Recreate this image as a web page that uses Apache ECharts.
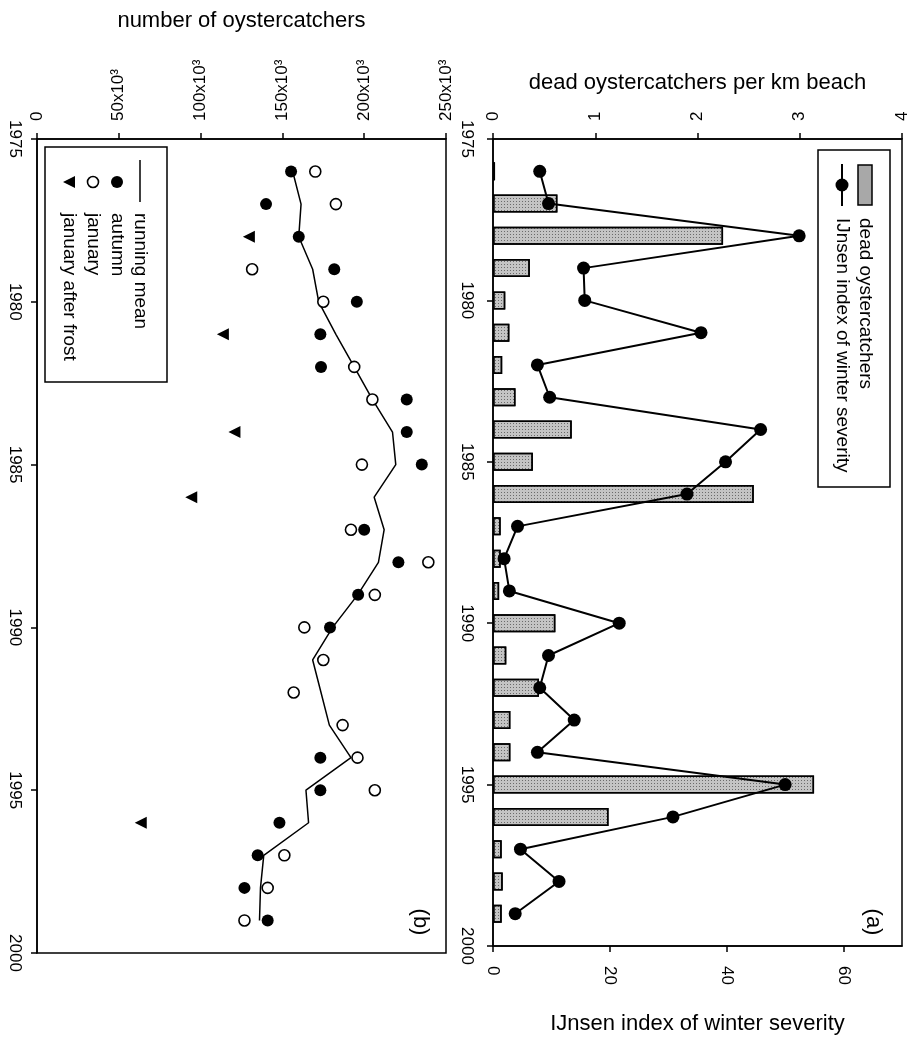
<!DOCTYPE html>
<html>
<head>
<meta charset="utf-8">
<script src="https://cdn.jsdelivr.net/npm/echarts@6/dist/echarts.min.js"></script>
<style>
html,body{margin:0;padding:0;background:#fff;}
#chart{width:918px;height:1040px;}
</style>
</head>
<body>
<div id="chart"></div>
<script>
// ---- data ----
const years = ['1975','1976','1977','1978','1979','1980','1981','1982','1983','1984','1985','1986','1987','1988','1989','1990','1991','1992','1993','1994','1995','1996','1997','1998','1999','2000'];
// panel (a): dead oystercatchers per km beach
const deadPerKm = [null,0.02,0.63,2.25,0.36,0.12,0.16,0.09,0.22,0.77,0.39,2.55,0.075,0.075,0.06,0.61,0.13,0.45,0.17,0.17,3.14,1.13,0.085,0.095,0.085,null];
// panel (a): IJnsen index of winter severity
const ijnsen = [null,8.0,9.5,52.4,15.5,15.7,35.6,7.6,9.7,45.8,39.8,33.2,4.2,1.9,2.8,21.6,9.5,8.0,13.9,7.6,50.0,30.8,4.7,11.3,3.8,null];
// panel (b): numbers of oystercatchers (thousands)
const runningMean = [null,156.3,161.4,160.0,168.5,172.2,182.7,193.9,205.0,217.3,219.3,206.1,212.2,208.7,196.0,180.7,168.5,173.6,178.7,191.9,164.4,166.0,138.6,136.6,136.0,null];
const autumn = [null,155.3,140.0,160.0,181.7,195.5,173.2,173.6,226.0,226.0,235.2,null,200.0,220.9,196.3,179.1,null,null,null,173.2,173.2,148.2,134.9,126.8,141.0,null];
const january = [null,170.1,182.7,null,131.5,175.0,null,193.9,205.0,null,198.6,null,191.9,239.2,206.5,163.4,175.0,156.9,186.8,195.9,206.5,null,151.2,141.0,126.8,null];
const januaryAfterFrost = [null,null,null,129.5,null,null,113.6,null,null,120.7,null,94.3,null,null,null,null,null,null,null,null,null,63.4,null,null,null,null];
const deadTicks = [0,1,2,3,4];
const ijnsenTicks = [0,20,40,60];
const numberTicks = [0,50,100,150,200,250];
const legendA = ['dead oystercatchers','IJnsen index of winter severity'];
const legendB = ['running mean','autumn','january','january after frost'];

// ---- helpers ----
const FONT = 'Liberation Sans, Arial, sans-serif';
const pairs = arr => arr.map((v,i)=> v==null ? null : [v, years[i]]).filter(p=>p);
const axisLineStyle = {show:true, lineStyle:{color:'#000', width:1.5}};
const tickStyle = {show:true, length:6, lineStyle:{color:'#000', width:1.5}};
const labelStyle = {color:'#000', fontSize:17, fontFamily:FONT};
const nameStyle = {color:'#000', fontSize:22, fontFamily:FONT};
const barFill = '#c4c4c4';
const barDecal = {symbol:'rect', symbolSize:1, color:'rgba(0,0,0,0.45)', dashArrayX:[1,2], dashArrayY:[1,2]};

const chart = echarts.init(document.getElementById('chart'), null, {renderer:'canvas'});

const R = -Math.PI/2; // clockwise quarter turn
function txt(x, y, s, size){
  return {type:'text', x:x, y:y, style:{text:s, fill:'#000', font: size+'px '+FONT, textVerticalAlign:'middle', textAlign:'left'}};
}

const option = {
  backgroundColor:'#fff',
  animation:false,
  textStyle:{fontFamily:FONT},
  grid:[
    {left:493, right:16, top:139, bottom:87, show:true, borderColor:'#000', borderWidth:1.5, containLabel:false},
    {left:37, width:409, top:139, bottom:87, show:true, borderColor:'#000', borderWidth:1.5, containLabel:false}
  ],
  xAxis:[
    {gridIndex:0, type:'value', position:'top', min:0, max:4, interval:1,
     name:'dead oystercatchers per km beach', nameLocation:'middle', nameGap:45, nameTextStyle:nameStyle,
     axisLine:axisLineStyle, axisTick:tickStyle, splitLine:{show:false},
     axisLabel:Object.assign({rotate:-90, margin:18, customValues:deadTicks}, labelStyle)},
    {gridIndex:0, type:'value', position:'bottom', min:0, max:70, interval:20,
     name:'IJnsen index of winter severity', nameLocation:'middle', nameGap:67, nameTextStyle:nameStyle,
     axisLine:axisLineStyle, axisTick:Object.assign({customValues:ijnsenTicks}, tickStyle), splitLine:{show:false},
     axisLabel:Object.assign({rotate:-90, margin:20, customValues:ijnsenTicks}, labelStyle)},
    {gridIndex:1, type:'value', position:'top', min:0, max:250, interval:50,
     name:'number of oystercatchers', nameLocation:'middle', nameGap:107, nameTextStyle:nameStyle,
     axisLine:axisLineStyle, axisTick:tickStyle, splitLine:{show:false},
     axisLabel:Object.assign({rotate:-90, margin:18, customValues:numberTicks,
       formatter:v => v===0 ? '0' : v + 'x10³'}, labelStyle)}
  ],
  yAxis:[
    {gridIndex:0, type:'category', data:years, inverse:true, boundaryGap:false,
     axisLine:axisLineStyle, axisTick:Object.assign({interval:4}, tickStyle), splitLine:{show:false},
     axisLabel:Object.assign({interval:4, rotate:-90, margin:18}, labelStyle)},
    {gridIndex:1, type:'category', data:years, inverse:true, boundaryGap:false,
     axisLine:axisLineStyle, axisTick:Object.assign({interval:4}, tickStyle), splitLine:{show:false},
     axisLabel:Object.assign({interval:4, rotate:-90, margin:14}, labelStyle)}
  ],
  series:[
    {name:legendA[0], type:'bar', xAxisIndex:0, yAxisIndex:0, data:deadPerKm, barWidth:18,
     itemStyle:{color:barFill, borderColor:'#000', borderWidth:1.5, decal:barDecal}, z:2},
    {name:legendA[1], type:'line', xAxisIndex:1, yAxisIndex:0, data:ijnsen, symbol:'circle', symbolSize:13,
     itemStyle:{color:'#000', opacity:1}, lineStyle:{color:'#000', width:2}, z:3},
    {name:legendB[0], type:'line', xAxisIndex:2, yAxisIndex:1, data:runningMean, symbol:'none',
     lineStyle:{color:'#000', width:1.5}, z:2},
    {name:legendB[1], type:'scatter', xAxisIndex:2, yAxisIndex:1, data:pairs(autumn), symbol:'circle', symbolSize:12,
     itemStyle:{color:'#000', opacity:1}, z:3},
    {name:legendB[2], type:'scatter', xAxisIndex:2, yAxisIndex:1, data:pairs(january), symbol:'circle', symbolSize:11,
     itemStyle:{color:'#fff', borderColor:'#000', borderWidth:1.6, opacity:1}, z:4},
    {name:legendB[3], type:'scatter', xAxisIndex:2, yAxisIndex:1, data:pairs(januaryAfterFrost), symbol:'triangle', symbolSize:12, symbolRotate:90,
     itemStyle:{color:'#000', opacity:1}, z:3}
  ],
  graphic:[
    // legend (a)
    {type:'group', x:890, y:150, rotation:R, children:[
      {type:'rect', shape:{x:0, y:0, width:337, height:72}, style:{fill:'#fff', stroke:'#000', lineWidth:1.5}},
      {type:'rect', shape:{x:15, y:18, width:40, height:14}, style:{fill:'#a8a8a8', stroke:'#000', lineWidth:1.5}},
      txt(68, 25, legendA[0], 19),
      {type:'line', shape:{x1:14, y1:48, x2:56, y2:48}, style:{stroke:'#000', lineWidth:2}},
      {type:'circle', shape:{cx:35, cy:48, r:6.5}, style:{fill:'#000'}},
      txt(68, 48, legendA[1], 19)
    ]},
    // legend (b)
    {type:'group', x:167, y:147, rotation:R, children:[
      {type:'rect', shape:{x:0, y:0, width:235, height:122}, style:{fill:'#fff', stroke:'#000', lineWidth:1.5}},
      {type:'line', shape:{x1:13, y1:27, x2:55, y2:27}, style:{stroke:'#000', lineWidth:1.5}},
      txt(66, 27, legendB[0], 19),
      {type:'circle', shape:{cx:35, cy:50, r:6}, style:{fill:'#000'}},
      txt(66, 50, legendB[1], 19),
      {type:'circle', shape:{cx:35, cy:74, r:5.5}, style:{fill:'#fff', stroke:'#000', lineWidth:1.6}},
      txt(66, 74, legendB[2], 19),
      {type:'polygon', shape:{points:[[29,92],[41,92],[35,104]]}, style:{fill:'#000'}},
      txt(66, 98, legendB[3], 19)
    ]},
    // panel labels
    {type:'text', x:873, y:922, rotation:R, style:{text:'(a)', fill:'#000', font:'22px '+FONT, textAlign:'center', textVerticalAlign:'middle'}},
    {type:'text', x:420, y:922, rotation:R, style:{text:'(b)', fill:'#000', font:'22px '+FONT, textAlign:'center', textVerticalAlign:'middle'}}
  ]
};
chart.setOption(option);
</script>
</body>
</html>
